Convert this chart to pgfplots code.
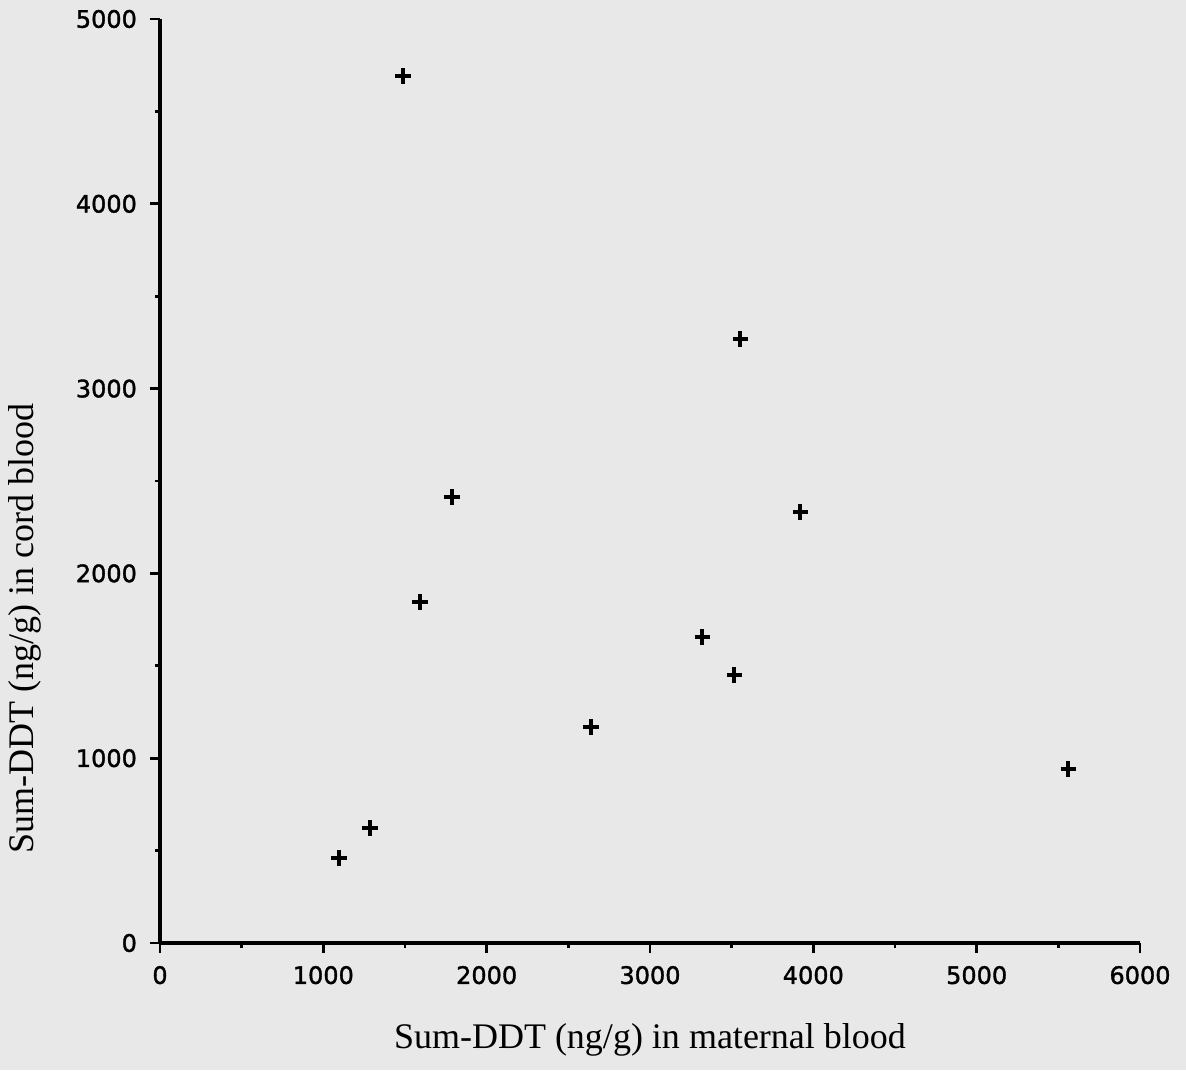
\documentclass[border=0pt]{standalone}
\usepackage{pgfplots}
\pgfplotsset{compat=1.18}
\usepackage{fontspec}
\setmainfont{Liberation Serif}
\newfontfamily\ticksfont{DejaVu Sans}[FakeBold=1.5]
\usetikzlibrary{backgrounds}
\definecolor{bg}{RGB}{232,232,232}
\begin{document}
\begin{tikzpicture}
\begin{axis}[
  scale only axis,
  width=490pt, height=462pt,
  xmin=0, xmax=6000, ymin=0, ymax=5000,
  axis lines=left,
  x axis line style={line width=2pt, -},
  y axis line style={line width=2pt, -},
  xtick={0,1000,...,6000}, ytick={0,1000,...,5000},
  minor xtick={500,1500,...,5500}, minor ytick={500,1500,...,4500},
  tick align=outside,
  major tick length=5pt, minor tick length=2.5pt,
  every tick/.style={black, line width=1.4pt},
  tick label style={font=\ticksfont\fontsize{12}{14}\selectfont},
  xticklabel style={yshift=-3pt},
  yticklabel style={xshift=-3pt},
  scaled ticks=false,
  xticklabel={\pgfmathprintnumber[fixed,1000 sep={}]{\tick}},
  yticklabel={\pgfmathprintnumber[fixed,1000 sep={}]{\tick}},
  /pgf/number format/assume math mode=true,
  xlabel={Sum-DDT (ng/g) in maternal blood},
  ylabel={Sum-DDT (ng/g) in cord blood},
  label style={font=\fontsize{18}{20}\selectfont},
  xlabel style={at={(axis description cs:0.5,-0.105)}, anchor=center},
  ylabel style={at={(axis description cs:-0.138,0.34)}, anchor=center},
  clip=false,
]
\addplot[only marks, mark=+, mark size=3.8pt, line width=1.8pt, black, mark options={line width=1.8pt}] coordinates {
(1488,4692)
(3552,3268)
(1788,2413)
(3919,2332)
(1592,1845)
(3319,1656)
(3515,1450)
(2639,1169)
(5560,942)
(1286,622)
(1096,460)
};
\end{axis}
\begin{scope}[on background layer]
\fill[bg] (-80pt,-63.5pt) rectangle (513pt,471.5pt);
\end{scope}
\end{tikzpicture}
\end{document}
